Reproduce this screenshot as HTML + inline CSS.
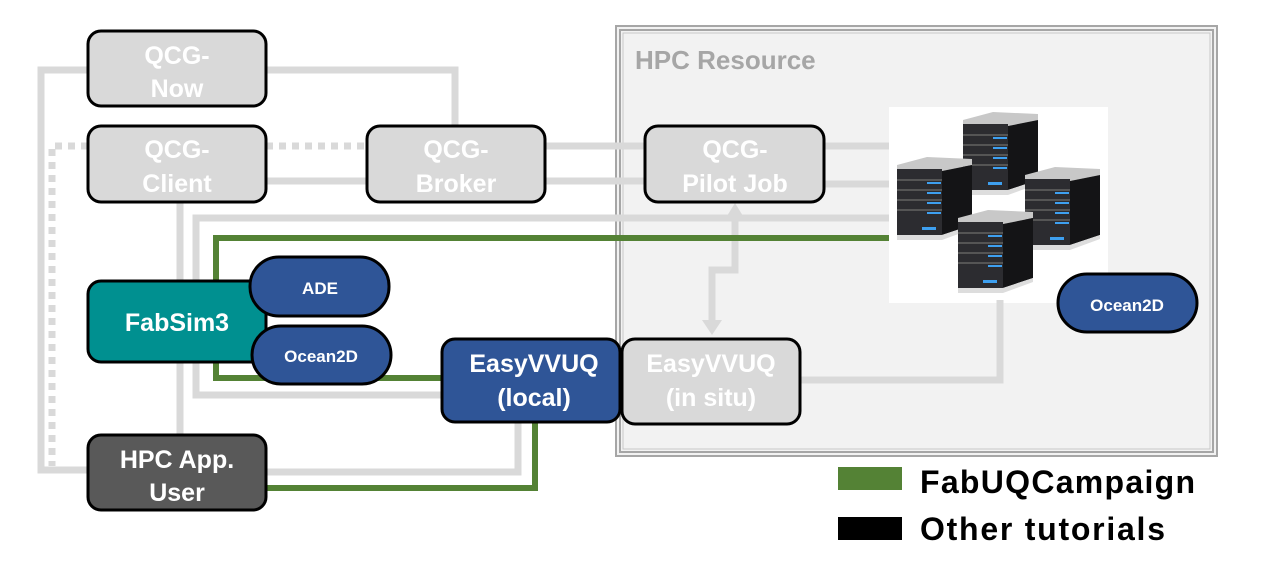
<!DOCTYPE html>
<html><head><meta charset="utf-8"><style>
html,body{margin:0;padding:0;background:#fff;}
svg{display:block;}
text{font-family:"Liberation Sans",sans-serif;font-weight:bold;}
</style></head><body>
<svg width="1280" height="569" viewBox="0 0 1280 569" xmlns="http://www.w3.org/2000/svg">
<defs>
<g id="srv">
  <polygon points="0,10 30,2 75,4 75,10 45,16 0,14" fill="#c8c8c8"/>
  <rect x="0" y="14" width="45" height="66" fill="#2c2c30"/>
  <polygon points="45,16 75,10 75,70 45,80" fill="#141416"/>
  <rect x="0" y="24" width="45" height="2" fill="#555"/>
  <rect x="0" y="34" width="45" height="2" fill="#555"/>
  <rect x="0" y="44" width="45" height="2" fill="#555"/>
  <rect x="0" y="54" width="45" height="2" fill="#555"/>
  <rect x="30" y="27" width="14" height="2" fill="#3ea0f0"/>
  <rect x="30" y="37" width="14" height="2" fill="#3ea0f0"/>
  <rect x="30" y="47" width="14" height="2" fill="#3ea0f0"/>
  <rect x="30" y="57" width="14" height="2" fill="#3ea0f0"/>
  <rect x="25" y="72" width="14" height="3" fill="#3ea0f0"/>
  <polygon points="0,80 45,80 75,70 75,74 45,85 0,85" fill="#ddd"/>
</g>
</defs>
<!-- HPC resource -->
<rect x="616" y="26" width="601" height="430" fill="#f2f2f2" stroke="#a6a6a6" stroke-width="2"/>
<rect x="620" y="30" width="593" height="422" fill="none" stroke="#a6a6a6" stroke-width="2"/>
<rect x="623" y="33" width="587" height="416" fill="none" stroke="#c8c8c8" stroke-width="1"/>
<text x="635" y="69" font-size="26" fill="#a6a6a6">HPC Resource</text>
<rect x="889" y="107" width="219" height="196" fill="#fff"/>

<g fill="none" stroke="#d9d9d9" stroke-width="7">
  <polyline points="88,70 41,70 41,470 88,470"/>
  <polyline points="266,70 455,70 455,126"/>
  <polyline points="266,181 367,181"/>
  <polyline points="545,146 645,146"/>
  <polyline points="545,181 645,181"/>
  <polyline points="824,146 889,146"/>
  <polyline points="824,184 889,184"/>
  <polyline points="180,202 180,435"/>
  <polyline points="889,218 196,218 196,395 442,395"/>
  <polyline points="800,380 1000,380 1000,300"/>
  <polyline points="266,472 518,472 518,422"/>
  <polyline points="735,215 735,270 712,270 712,322"/>
</g>
<polygon points="735,203 727,216 743,216" fill="#d9d9d9"/>
<polygon points="712,335 702,320 722,320" fill="#d9d9d9"/>
<g fill="none" stroke="#d9d9d9" stroke-width="7" stroke-dasharray="7,6">
  <polyline points="88,146 52,146 52,466"/>
  <polyline points="266,146 367,146"/>
</g>
<g fill="none" stroke="#548235" stroke-width="6">
  <polyline points="889,238 216,238 216,378 442,378"/>
  <polyline points="266,488 535,488 535,422"/>
</g>

<use href="#srv" x="963" y="110"/>
<use href="#srv" x="897" y="155"/>
<use href="#srv" x="1025" y="165"/>
<use href="#srv" x="958" y="208"/>

<g stroke="#000" stroke-width="3">
  <rect x="88" y="31" width="178" height="75" rx="13" fill="#d9d9d9"/>
  <rect x="88" y="126" width="178" height="76" rx="13" fill="#d9d9d9"/>
  <rect x="367" y="126" width="178" height="76" rx="13" fill="#d9d9d9"/>
  <rect x="645" y="126" width="179" height="76" rx="13" fill="#d9d9d9"/>
  <rect x="88" y="281" width="178" height="81" rx="13" fill="#009090"/>
  <rect x="250" y="257" width="139" height="59" rx="29" fill="#2f5597"/>
  <rect x="252" y="326" width="139" height="58" rx="29" fill="#2f5597"/>
  <rect x="442" y="339" width="178" height="83" rx="13" fill="#2f5597"/>
  <rect x="622" y="339" width="178" height="85" rx="13" fill="#d9d9d9"/>
  <rect x="88" y="435" width="178" height="75" rx="13" fill="#595959"/>
  <rect x="1058" y="274" width="139" height="58" rx="29" fill="#2f5597"/>
</g>
<g fill="#fff" font-size="25" text-anchor="middle">
  <text x="177" y="64">QCG-</text><text x="177" y="97">Now</text>
  <text x="177" y="158">QCG-</text><text x="177" y="192">Client</text>
  <text x="456" y="158">QCG-</text><text x="456" y="192">Broker</text>
  <text x="735" y="158">QCG-</text><text x="735" y="192">Pilot Job</text>
  <text x="177" y="331">FabSim3</text>
  <text x="534" y="372">EasyVVUQ</text><text x="534" y="406">(local)</text>
  <text x="711" y="372">EasyVVUQ</text><text x="711" y="406">(in situ)</text>
  <text x="177" y="468">HPC App.</text><text x="177" y="501">User</text>
  <text x="320" y="294" font-size="17">ADE</text>
  <text x="321" y="362" font-size="17">Ocean2D</text>
  <text x="1127" y="311" font-size="17">Ocean2D</text>
</g>
<rect x="838" y="467" width="64" height="23" fill="#548235"/>
<rect x="838" y="517" width="64" height="23" fill="#000"/>
<text x="920" y="493" font-size="32" fill="#000" textLength="275">FabUQCampaign</text>
<text x="920" y="540" font-size="32" fill="#000" textLength="245">Other tutorials</text>
</svg>
</body></html>
